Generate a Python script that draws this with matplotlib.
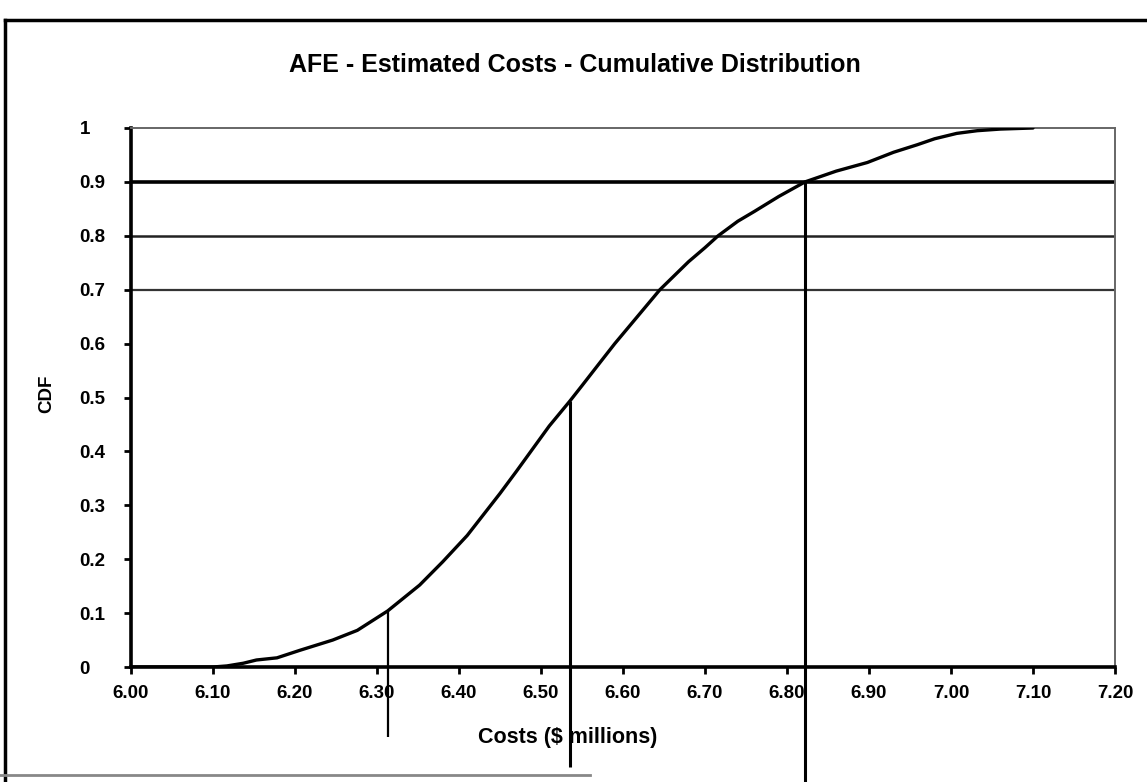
import matplotlib
matplotlib.use("Agg")
import matplotlib.pyplot as plt
from matplotlib.lines import Line2D

# ---- data ----
cost = [6.00, 6.10, 6.117, 6.137, 6.153, 6.178, 6.206, 6.246, 6.276, 6.313,
        6.352, 6.38, 6.41, 6.43, 6.45, 6.47, 6.49, 6.51, 6.535, 6.55,
        6.572, 6.59, 6.612, 6.645, 6.68, 6.70, 6.716, 6.74, 6.76, 6.79,
        6.822, 6.86, 6.898, 6.93, 6.959, 6.98, 7.007, 7.032, 7.06, 7.10]
cdf = [0.0, 0.0, 0.002, 0.007, 0.013, 0.017, 0.031, 0.05, 0.068, 0.104,
       0.152, 0.195, 0.244, 0.283, 0.322, 0.363, 0.405, 0.447, 0.493, 0.522,
       0.565, 0.60, 0.64, 0.70, 0.752, 0.778, 0.80, 0.827, 0.845, 0.873,
       0.90, 0.92, 0.936, 0.955, 0.969, 0.98, 0.99, 0.995, 0.998, 1.0]

ref_levels = [0.7, 0.8, 0.9]
pct_costs = [6.313, 6.535, 6.822]
pct_cdf = [0.104, 0.493, 0.90]

xticks = [6.00, 6.10, 6.20, 6.30, 6.40, 6.50, 6.60, 6.70, 6.80, 6.90, 7.00, 7.10, 7.20]
xtick_labels = ["6.00", "6.10", "6.20", "6.30", "6.40", "6.50", "6.60",
                "6.70", "6.80", "6.90", "7.00", "7.10", "7.20"]
yticks = [0, 0.1, 0.2, 0.3, 0.4, 0.5, 0.6, 0.7, 0.8, 0.9, 1.0]
ytick_labels = ["0", "0.1", "0.2", "0.3", "0.4", "0.5", "0.6", "0.7", "0.8", "0.9", "1"]

title = "AFE - Estimated Costs - Cumulative Distribution"
xlabel = "Costs ($ millions)"
ylabel = "CDF"

plt.rcParams['font.family'] = ['Liberation Sans', 'DejaVu Sans']

W, H = 1147, 782
fig = plt.figure(figsize=(W / 100, H / 100), dpi=100)
fig.patch.set_facecolor("white")

ax = fig.add_axes([131 / W, 1 - 667 / H, (1115 - 131) / W, (667 - 128) / H])
ax.set_xlim(6.0, 7.2)
ax.set_ylim(0, 1)

# reference horizontal lines
ref_styles = {0.7: (1.6, "#333333"), 0.8: (1.8, "#222222"), 0.9: (2.6, "black")}
for lv in ref_levels:
    lw, c = ref_styles[lv]
    ax.plot([6.0, 7.2], [lv, lv], color=c, lw=lw, solid_capstyle="butt", zorder=2)

# CDF curve
ax.plot(cost, cdf, color="black", lw=2.4, solid_joinstyle="round",
        solid_capstyle="round", zorder=4)

# percentile drop lines (extend below the axis)
drop_ends = [-0.13, -0.185, -0.23]
drop_lw = [1.6, 2.2, 2.2]
for xv, yv, ye, lw in zip(pct_costs, pct_cdf, drop_ends, drop_lw):
    ax.plot([xv, xv], [yv, ye], color="black", lw=lw, clip_on=False, zorder=5,
            solid_capstyle="butt")

# spines
for s in ["left", "bottom"]:
    ax.spines[s].set_linewidth(2.6)
    ax.spines[s].set_color("black")
for s in ["top", "right"]:
    ax.spines[s].set_linewidth(1.4)
    ax.spines[s].set_color("#666666")
    ax.spines[s].set_linestyle((0, (3, 1)))

ax.set_xticks(xticks)
ax.set_xticklabels(xtick_labels)
ax.set_yticks(yticks)
ax.set_yticklabels(ytick_labels, ha="left")
ax.tick_params(axis="x", direction="out", length=5, width=2, pad=8,
               labelsize=13.5)
ax.tick_params(axis="y", direction="out", length=5, width=2, pad=32,
               labelsize=13.5)
for lab in ax.get_xticklabels() + ax.get_yticklabels():
    lab.set_fontweight("bold")

fig.text(575 / W, 1 - 65 / H, title, ha="center", va="center",
         fontsize=18, fontweight="bold")
fig.text(568 / W, 1 - 737 / H, xlabel, ha="center", va="center",
         fontsize=15.5, fontweight="bold")
fig.text(47 / W, 1 - 394 / H, ylabel, ha="center", va="center",
         rotation=90, fontsize=13.5, fontweight="bold")

# outer frame (top & left, partial bottom)
fig.add_artist(Line2D([5 / W, 1.0], [1 - 20 / H, 1 - 20 / H],
                      transform=fig.transFigure, color="black", lw=2.5))
fig.add_artist(Line2D([5 / W, 5 / W], [0, 1 - 20 / H],
                      transform=fig.transFigure, color="black", lw=2.5))
fig.add_artist(Line2D([0, 590 / W], [1 - 775 / H, 1 - 775 / H],
                      transform=fig.transFigure, color="#888888", lw=2.0))

fig.savefig("out.png", dpi=100, facecolor="white")
